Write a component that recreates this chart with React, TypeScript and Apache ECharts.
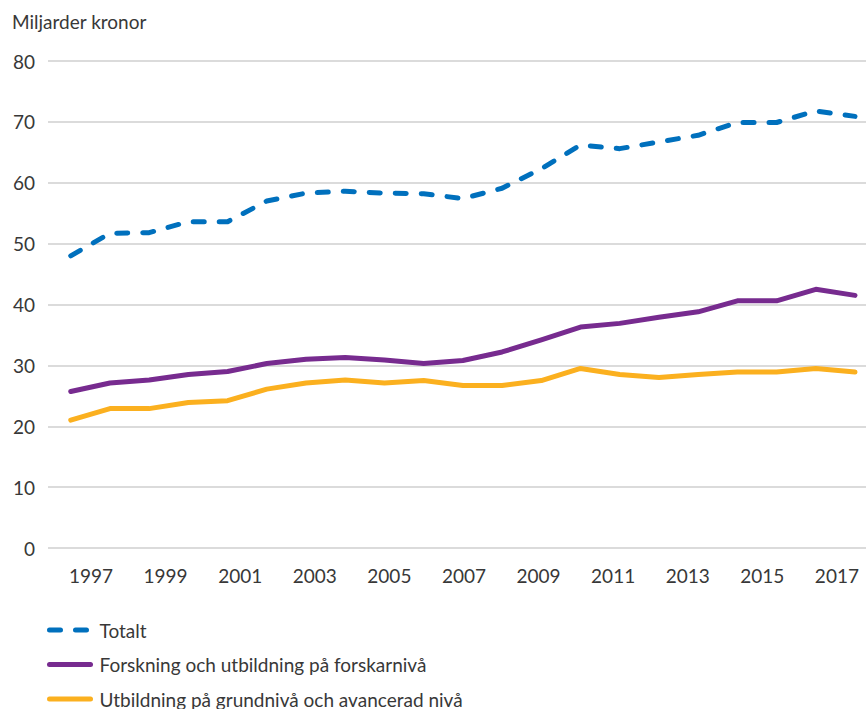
import React, { useEffect, useRef } from "react";
import * as echarts from "echarts";

const years = [1997, 1998, 1999, 2000, 2001, 2002, 2003, 2004, 2005, 2006, 2007, 2008, 2009, 2010, 2011, 2012, 2013, 2014, 2015, 2016, 2017];
const totalt = [48.0, 51.7, 51.8, 53.6, 53.6, 57.0, 58.3, 58.6, 58.3, 58.2, 57.4, 59.1, 62.3, 66.2, 65.6, 66.7, 67.8, 69.9, 69.9, 71.8, 70.9];
const forskning = [25.7, 27.1, 27.6, 28.5, 29.0, 30.3, 31.0, 31.3, 30.9, 30.3, 30.8, 32.2, 34.2, 36.3, 36.9, 37.9, 38.8, 40.6, 40.6, 42.5, 41.5];
const utbildning = [21.0, 22.9, 22.9, 23.9, 24.2, 26.1, 27.1, 27.6, 27.1, 27.5, 26.7, 26.7, 27.5, 29.5, 28.5, 28.0, 28.5, 28.9, 28.9, 29.5, 28.9];
const yearLabels = [1997, 1999, 2001, 2003, 2005, 2007, 2009, 2011, 2013, 2015, 2017];
const yTicks = [0, 10, 20, 30, 40, 50, 60, 70, 80];

const seriesNames = [
  "Totalt",
  "Forskning och utbildning på forskarnivå",
  "Utbildning på grundnivå och avancerad nivå",
];
const colors = ["#0070bd", "#772b8f", "#fbb01f"];

const FONT = "Lato, 'Open Sans', sans-serif";
const TEXT = "#383838";

export default function App() {
  const ref = useRef<HTMLDivElement>(null);
  useEffect(() => {
    if (!ref.current) return;
    const chart = echarts.init(ref.current, undefined, { renderer: "svg" });
    const pair = (arr: number[]) => years.map((y, i) => [y, arr[i]]);
    chart.setOption({
      animation: false,
      textStyle: { fontFamily: FONT, color: TEXT },
      title: {
        text: "Miljarder kronor",
        left: 12,
        top: 12,
        padding: 0,
        textStyle: { fontFamily: FONT, fontSize: 19, fontWeight: "normal", color: TEXT },
      },
      grid: { left: 48, right: 0, top: 61, bottom: 161, containLabel: false },
      xAxis: [
        {
          type: "value",
          min: 1996.42,
          max: 2017.28,
          axisLine: { show: false },
          axisTick: { show: false },
          axisLabel: { show: false },
          splitLine: { show: false },
        },
        {
          type: "value",
          position: "bottom",
          min: 1995.847,
          max: 2017.78,
          axisLine: { show: false },
          axisTick: { show: false, customValues: yearLabels },
          splitLine: { show: false },
          axisLabel: {
            customValues: yearLabels,
            margin: 18,
            fontSize: 19,
            fontFamily: FONT,
            color: TEXT,
            formatter: (v: number) => String(Math.round(v)),
          },
        },
      ],
      yAxis: {
        type: "value",
        min: yTicks[0],
        max: yTicks[yTicks.length - 1],
        interval: 10,
        axisLine: { show: false },
        axisTick: { show: false },
        axisLabel: { margin: 13, fontSize: 19, fontFamily: FONT, color: TEXT },
        splitLine: { lineStyle: { color: "#cfcfcf", width: 1.5 } },
      },
      legend: {
        orient: "vertical",
        left: 47,
        top: 620,
        padding: 0,
        itemWidth: 41,
        itemHeight: 14,
        itemGap: 14.5,
        itemStyle: { opacity: 0 },
        lineStyle: { width: 5, cap: "round" },
        textStyle: { fontFamily: FONT, fontSize: 19, color: TEXT, lineHeight: 20, padding: [0, 0, 0, 4] },
        data: seriesNames,
      },
      series: [
        {
          name: seriesNames[0],
          type: "line",
          xAxisIndex: 0,
          data: pair(totalt),
          symbol: "none",
          color: colors[0],
          lineStyle: { width: 5, type: [11, 15], cap: "round", join: "round", color: colors[0] },
          z: 3,
        },
        {
          name: seriesNames[1],
          type: "line",
          xAxisIndex: 0,
          data: pair(forskning),
          symbol: "none",
          color: colors[1],
          lineStyle: { width: 5, cap: "round", join: "round", color: colors[1] },
        },
        {
          name: seriesNames[2],
          type: "line",
          xAxisIndex: 0,
          data: pair(utbildning),
          symbol: "none",
          color: colors[2],
          lineStyle: { width: 5, cap: "round", join: "round", color: colors[2] },
        },
      ],
    });
    return () => chart.dispose();
  }, []);
  return (
    <div
      ref={ref}
      style={{ position: "absolute", left: 0, top: 0, width: 866, height: 709, background: "#fff" }}
    />
  );
}
